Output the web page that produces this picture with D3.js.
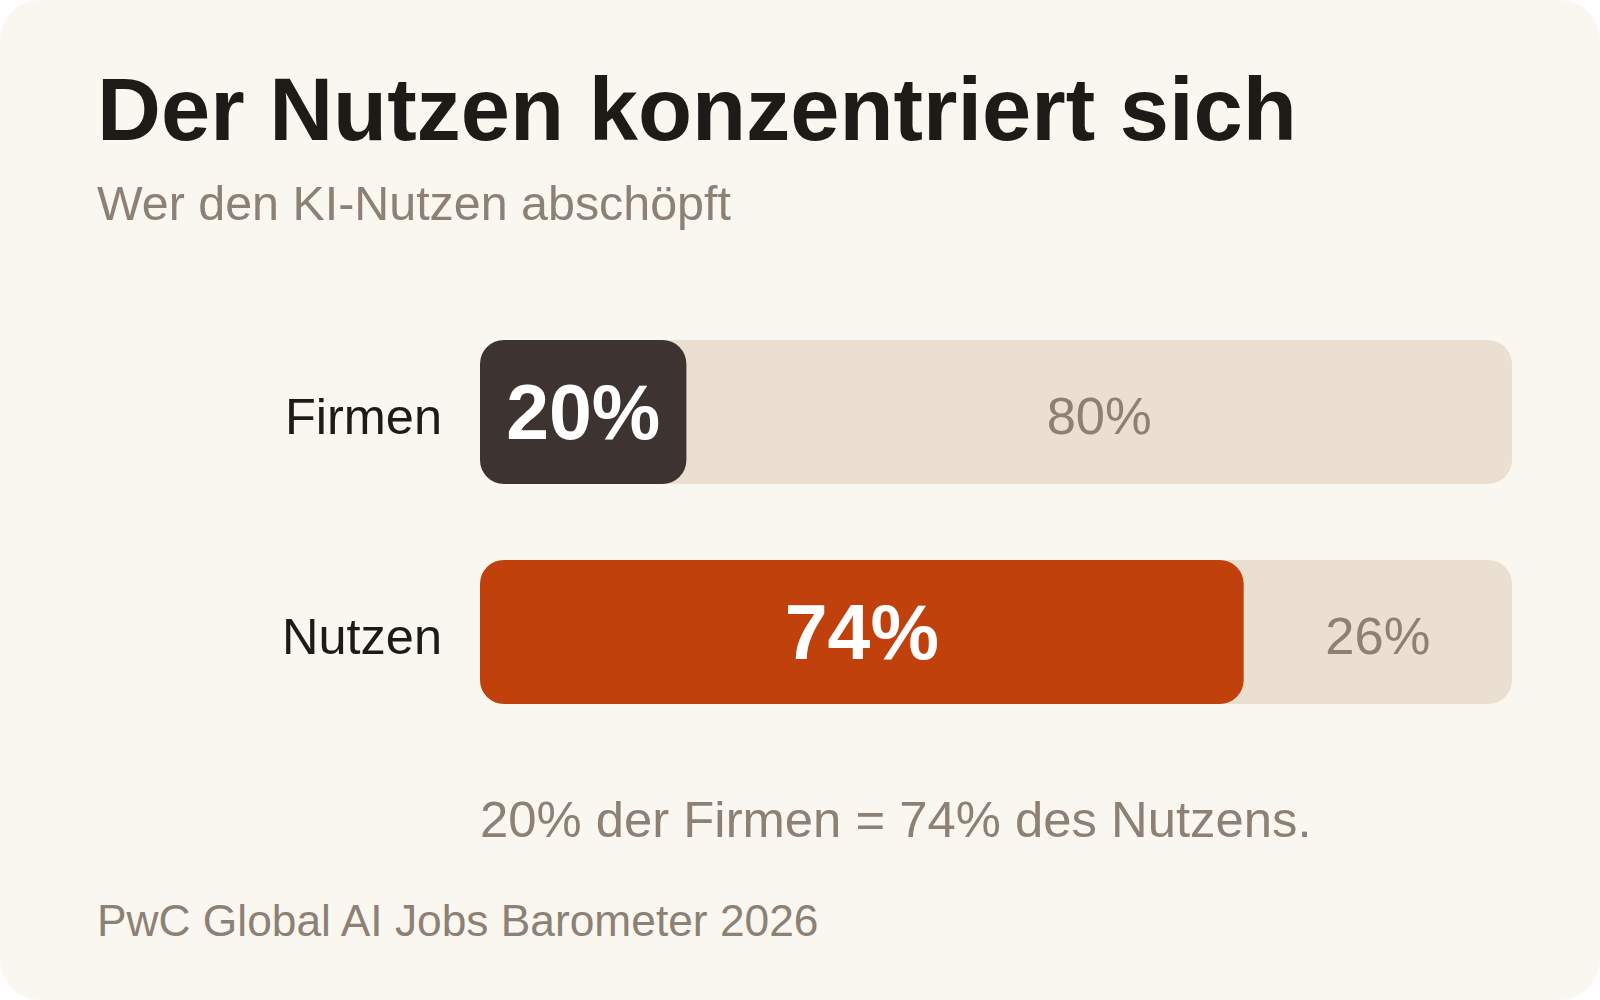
<!DOCTYPE html>
<html>
<head>
<meta charset="utf-8">
<script src="https://cdn.jsdelivr.net/npm/d3@7"></script>
<style>
  html, body { margin: 0; padding: 0; background: #ffffff; }
  svg { display: block; }
</style>
</head>
<body>
<div id="chart"></div>
<script>
// data
var categories = ["Firmen", "Nutzen"];
var shares = [20, 74];
var restShares = [80, 26];
var shareColors = ["#3d3431", "#c1410c"];

var title = "Der Nutzen konzentriert sich";
var subtitle = "Wer den KI-Nutzen abschöpft";
var note = "20% der Firmen = 74% des Nutzens.";
var source = "PwC Global AI Jobs Barometer 2026";

var width = 1600,
    height = 1000;
var font = "'Liberation Sans', Arial, Helvetica, sans-serif";

var svg = d3.select("#chart")
  .append("svg")
  .attr("width", width)
  .attr("height", height);

// card
svg.append("rect")
  .attr("width", width).attr("height", height)
  .attr("rx", 40).attr("ry", 40)
  .attr("fill", "#faf7f0");

svg.append("text")
  .attr("x", 97).attr("y", 140)
  .attr("font-family", font).attr("font-size", 88.5).attr("font-weight", 700)
  .attr("fill", "#1e1a17")
  .text(title);

svg.append("text")
  .attr("x", 97).attr("y", 220)
  .attr("font-family", font).attr("font-size", 48.4)
  .attr("fill", "#8c8174")
  .text(subtitle);

var x = d3.scaleLinear().domain([0, 100]).range([480, 1512]);
var y = d3.scaleBand().domain(categories).range([340, 704])
  .paddingInner(0.3455).paddingOuter(0);

var rows = svg.selectAll("g.row")
  .data(categories.map(function(c, i) {
    return { cat: c, share: shares[i], rest: restShares[i], color: shareColors[i] };
  }))
  .enter().append("g")
  .attr("class", "row");

// track
rows.append("rect")
  .attr("x", x(0))
  .attr("y", function(d) { return y(d.cat); })
  .attr("width", x(100) - x(0))
  .attr("height", y.bandwidth())
  .attr("rx", 24).attr("ry", 24)
  .attr("fill", "#ebdfd2");

// share bar
rows.append("rect")
  .attr("x", x(0))
  .attr("y", function(d) { return y(d.cat); })
  .attr("width", function(d) { return x(d.share) - x(0); })
  .attr("height", y.bandwidth())
  .attr("rx", 24).attr("ry", 24)
  .attr("fill", function(d) { return d.color; });

// category label
rows.append("text")
  .attr("x", x(0) - 38)
  .attr("y", function(d) { return y(d.cat) + y.bandwidth() / 2 + 22; })
  .attr("text-anchor", "end")
  .attr("font-family", font).attr("font-size", 50.5)
  .attr("fill", "#1e1a17")
  .text(function(d) { return d.cat; });

// share value
rows.append("text")
  .attr("x", function(d) { return (x(0) + x(d.share)) / 2; })
  .attr("y", function(d) { return y(d.cat) + y.bandwidth() / 2 + 27; })
  .attr("text-anchor", "middle")
  .attr("font-family", font).attr("font-size", 77).attr("font-weight", 700)
  .attr("fill", "#ffffff")
  .text(function(d) { return d.share + "%"; });

// rest value
rows.append("text")
  .attr("x", function(d) { return (x(d.share) + x(100)) / 2; })
  .attr("y", function(d) { return y(d.cat) + y.bandwidth() / 2 + 22; })
  .attr("text-anchor", "middle")
  .attr("font-family", font).attr("font-size", 52.5)
  .attr("fill", "#8c8174")
  .text(function(d) { return d.rest + "%"; });

svg.append("text")
  .attr("x", x(0)).attr("y", 837)
  .attr("font-family", font).attr("font-size", 50.8)
  .attr("fill", "#8c8174")
  .text(note);

svg.append("text")
  .attr("x", 97).attr("y", 936)
  .attr("font-family", font).attr("font-size", 44.3)
  .attr("fill", "#8c8174")
  .text(source);
</script>
</body>
</html>
